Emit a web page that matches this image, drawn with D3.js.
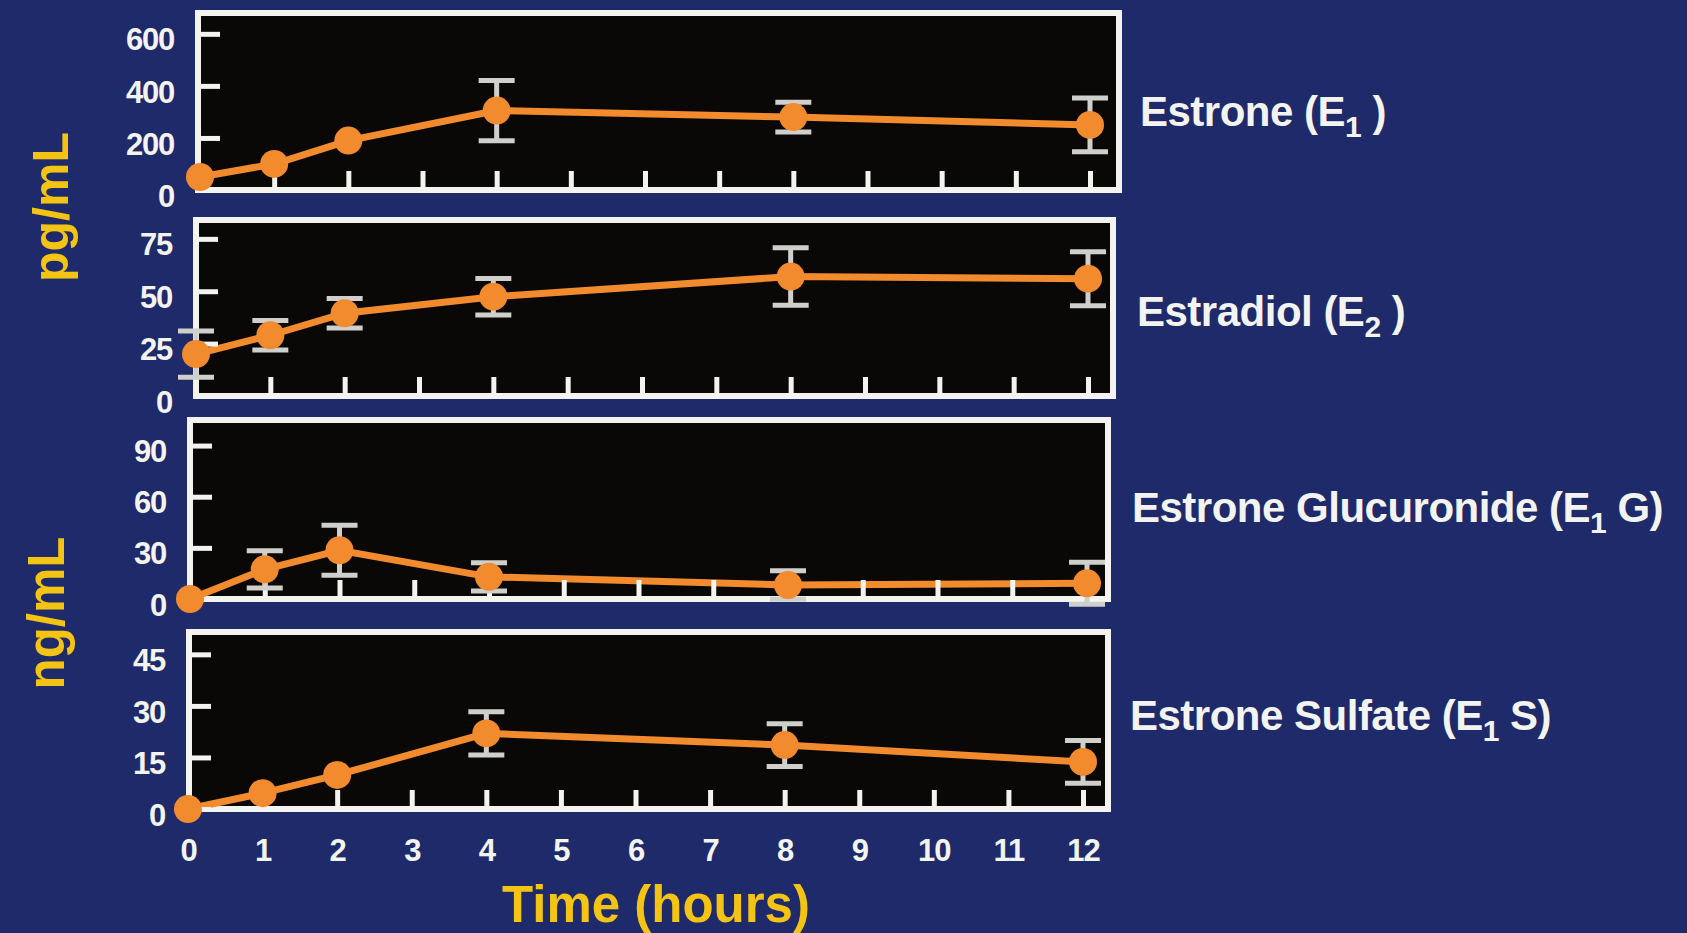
<!DOCTYPE html>
<html>
<head>
<meta charset="utf-8">
<script src="https://cdn.jsdelivr.net/npm/d3@7"></script>
<style>
html, body { margin: 0; padding: 0; background: #1e2a69; overflow: hidden; }
svg { display: block; }
text { font-family: "Liberation Sans", Arial, sans-serif; font-weight: bold; }
</style>
</head>
<body>
<svg id="chart" width="1687" height="933"></svg>
<script>
// sampling times (hours)
const hours = [0, 1, 2, 4, 8, 12];
const hourTicks = [0, 1, 2, 3, 4, 5, 6, 7, 8, 9, 10, 11, 12];

// Estrone (E1), pg/mL
const estroneMean = [50, 100, 190, 305, 280, 250];
const estroneErr = [0, 0, 0, 116, 57, 103];
const estroneTicks = [0, 200, 400, 600];

// Estradiol (E2), pg/mL
const estradiolMean = [20, 29, 39.5, 47.4, 57, 56];
const estradiolErr = [11, 7, 7, 8.7, 13.7, 12.9];
const estradiolTicks = [0, 25, 50, 75];

// Estrone glucuronide (E1G), ng/mL
const glucMean = [0, 17.4, 28.6, 13, 8.2, 9.2];
const glucErr = [0, 10.9, 14.6, 8.3, 8.3, 12.3];
const glucTicks = [0, 30, 60, 90];

// Estrone sulfate (E1S), ng/mL
const sulfMean = [0, 4.6, 9.9, 22, 18.6, 13.7];
const sulfErr = [0, 0, 0, 6.3, 6.2, 6.2];
const sulfTicks = [0, 15, 30, 45];

const titles = [
    ["Estrone (E", "1", " )"],
    ["Estradiol (E", "2", " )"],
    ["Estrone Glucuronide (E", "1", " G)"],
    ["Estrone Sulfate (E", "1", " S)"]
];

const orange = "#f28a2e";
const yellow = "#f4c414";
const white = "#f3f3ef";
const grey = "#cfcfcc";

// panel boxes on the slide (slightly keystoned in the photo)
const layout = [
    {top: 13, bottom: 190, left: 198, right: 1119, x0: 200, x12: 1090, yTop: 680, tx: 1140, ty: 111},
    {top: 220, bottom: 396, left: 196, right: 1113, x0: 196, x12: 1088, yTop: 84, tx: 1137, ty: 311},
    {top: 420, bottom: 599, left: 190, right: 1108, x0: 190, x12: 1087, yTop: 105, tx: 1132, ty: 507},
    {top: 632, bottom: 809, left: 189, right: 1108, x0: 188, x12: 1083, yTop: 51.5, tx: 1130, ty: 715}
];

const series = [
    {mean: estroneMean, err: estroneErr, ticks: estroneTicks},
    {mean: estradiolMean, err: estradiolErr, ticks: estradiolTicks},
    {mean: glucMean, err: glucErr, ticks: glucTicks},
    {mean: sulfMean, err: sulfErr, ticks: sulfTicks}
];

var svg = d3.select("#chart");

var lastX;
series.forEach(function (s, p) {
    var L = layout[p];
    var x = d3.scaleLinear().domain([0, 12]).range([L.x0, L.x12]);
    var y = d3.scaleLinear().domain([0, L.yTop]).range([L.bottom, L.top]);
    lastX = x;
    var g = svg.append("g");

    // black plot box with white frame
    g.append("rect")
        .attr("x", L.left).attr("y", L.top)
        .attr("width", L.right - L.left).attr("height", L.bottom - L.top)
        .attr("fill", "#090807")
        .attr("stroke", white).attr("stroke-width", 6);

    var data = hours.map(function (h, i) {
        return {h: h, m: s.mean[i], e: s.err[i]};
    });

    // line
    var line = d3.line()
        .x(function (d) { return x(d.h); })
        .y(function (d) { return y(d.m); });
    g.append("path")
        .attr("d", line(data))
        .attr("fill", "none")
        .attr("stroke", orange)
        .attr("stroke-width", 7);

    // hour ticks pointing up from the bottom
    var xt = g.append("g")
        .attr("transform", "translate(0," + L.bottom + ")")
        .call(d3.axisBottom(x).tickValues(hourTicks.slice(1)).tickSize(-19).tickFormat(""));
    xt.select(".domain").remove();
    xt.selectAll("line").attr("stroke", white).attr("stroke-width", 5);

    // value ticks + labels
    var yt = g.append("g")
        .attr("transform", "translate(" + L.left + ",0)")
        .call(d3.axisLeft(y).tickValues(s.ticks).tickSizeInner(-22).tickSizeOuter(0).tickPadding(24));
    yt.select(".domain").remove();
    yt.selectAll("line").attr("stroke", white).attr("stroke-width", 5);
    yt.selectAll("text")
        .attr("fill", white)
        .attr("font-size", 31)
        .attr("letter-spacing", -1.2)
        .attr("dy", "0.52em");

    // error bars
    var eb = g.append("g").attr("stroke", grey).attr("stroke-width", 5);
    data.filter(function (d) { return d.e > 0; }).forEach(function (d) {
        var cx = x(d.h);
        eb.append("line").attr("x1", cx).attr("x2", cx)
            .attr("y1", y(d.m - d.e)).attr("y2", y(d.m + d.e));
        [d.m - d.e, d.m + d.e].forEach(function (v) {
            eb.append("line").attr("x1", cx - 18).attr("x2", cx + 18)
                .attr("y1", y(v)).attr("y2", y(v));
        });
    });

    // points
    g.selectAll("circle.pt")
        .data(data)
        .join("circle")
        .attr("class", "pt")
        .attr("cx", function (d) { return x(d.h); })
        .attr("cy", function (d) { return y(d.m); })
        .attr("r", 14)
        .attr("fill", orange);

    // title to the right
    var t = svg.append("text")
        .attr("x", L.tx).attr("y", L.ty)
        .attr("dy", "0.36em")
        .attr("fill", white)
        .attr("font-size", 42)
        .attr("letter-spacing", -0.5);
    t.append("tspan").text(titles[p][0]);
    t.append("tspan").attr("font-size", 30).attr("dy", 11).text(titles[p][1]);
    t.append("tspan").attr("dy", -11).text(titles[p][2]);
});

// hour labels under the bottom panel
var xl = svg.append("g")
    .attr("transform", "translate(0," + layout[3].bottom + ")")
    .call(d3.axisBottom(lastX).tickValues(hourTicks).tickSize(0).tickPadding(30));
xl.select(".domain").remove();
xl.selectAll("text")
    .attr("fill", white)
    .attr("font-size", 31)
    .attr("letter-spacing", -1);

// axis titles
svg.append("text")
    .attr("transform", "translate(50,207) rotate(-90)")
    .attr("text-anchor", "middle").attr("dy", "0.35em")
    .attr("fill", yellow).attr("font-size", 50)
    .text("pg/mL");
svg.append("text")
    .attr("transform", "translate(46,613) rotate(-90)")
    .attr("text-anchor", "middle").attr("dy", "0.35em")
    .attr("fill", yellow).attr("font-size", 51)
    .text("ng/mL");
svg.append("text")
    .attr("x", 656).attr("y", 904)
    .attr("text-anchor", "middle").attr("dy", "0.35em")
    .attr("fill", yellow).attr("font-size", 51)
    .text("Time (hours)");
</script>
</body>
</html>
